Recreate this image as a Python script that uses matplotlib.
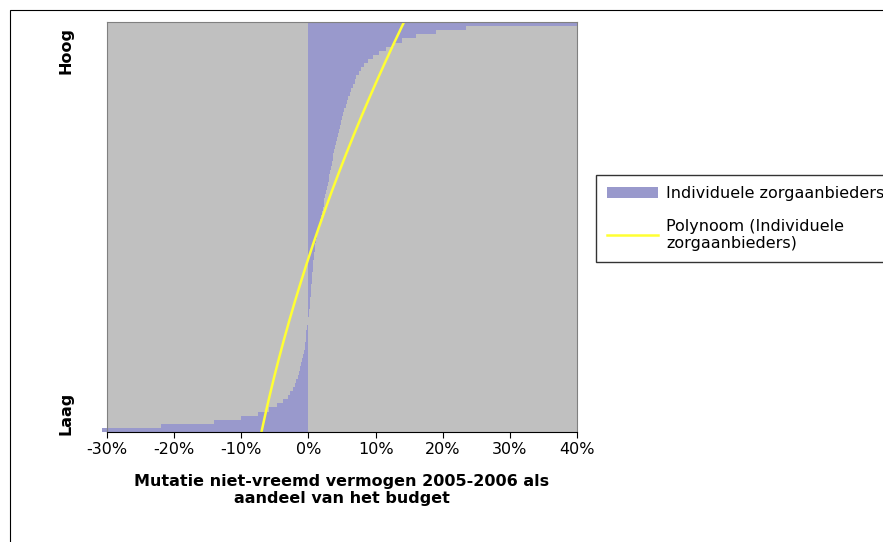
import numpy as np
import matplotlib
matplotlib.use("Agg")
import matplotlib.pyplot as plt
from matplotlib.patches import Patch, Rectangle
from matplotlib.lines import Line2D

# sorted mutation per provider (% of budget), bottom (Laag) to top (Hoog)
values = [
    -30.7, -22, -14, -10, -7.5, -5.8, -4.7, -3.8, -3.1, -2.7,
    -2.3, -2.0, -1.8, -1.6, -1.4, -1.2, -1.05, -0.9, -0.75, -0.65,
    -0.55, -0.48, -0.42, -0.36, -0.3, -0.25, 0.0, 0.0, 0.1, 0.15,
    0.2, 0.25, 0.3, 0.35, 0.4, 0.45, 0.5, 0.55, 0.6, 0.65,
    0.7, 0.75, 0.8, 0.88, 0.95, 1.05, 1.15, 1.25, 1.35, 1.45,
    1.6, 1.75, 1.9, 2.0, 2.1, 2.25, 2.35, 2.5, 2.6, 2.75,
    2.85, 3.0, 3.1, 3.2, 3.35, 3.45, 3.6, 3.7, 3.8, 3.95,
    4.1, 4.25, 4.4, 4.55, 4.7, 4.85, 5.0, 5.15, 5.35, 5.55,
    5.7, 5.9, 6.15, 6.4, 6.65, 6.9, 7.15, 7.5, 7.85, 8.3,
    8.9, 9.6, 10.5, 11.5, 12.8, 14.0, 16.0, 19.0, 23.5, 40.0,
]
# trend line (Polynoom) at a few provider positions
trend_pos = [-0.5, 49, 67, 99.5]
trend_vals = [-7.0, 1.5, 5.5, 14.25]
xticks = [-30, -20, -10, 0, 10, 20, 30, 40]

PURPLE = "#9999cc"
GREY = "#c0c0c0"
YELLOW = "#ffff33"

fig = plt.figure(figsize=(8.83, 5.42), dpi=100)
ax = fig.add_axes([107 / 883, 1 - 432 / 542, 470 / 883, 410 / 542])
ax.set_facecolor(GREY)

idx = np.arange(len(values))
ax.barh(idx, values, height=1.0, color=PURPLE, linewidth=0, clip_on=False)

coef = np.polyfit(trend_pos, trend_vals, 2)
yy = np.linspace(-0.5, len(values) - 0.5, 200)
ax.plot(np.polyval(coef, yy), yy, color=YELLOW, linewidth=1.8)

ax.set_xlim(-30, 40)
ax.set_ylim(-0.5, len(values) - 0.5)
ax.set_xticks(xticks)
ax.set_xticklabels([f"{t}%" for t in xticks], fontsize=11.5)
ax.set_yticks([])
for s in ["top", "right", "left"]:
    ax.spines[s].set_color("#808080")
ax.tick_params(axis="x", length=4)
ax.set_xlabel("Mutatie niet-vreemd vermogen 2005-2006 als\naandeel van het budget",
              fontsize=11.5, weight="bold", labelpad=12)

fig.text(66 / 883, 1 - 50 / 542, "Hoog", rotation=90, ha="center", va="center",
         fontsize=11.5, weight="bold")
fig.text(66 / 883, 1 - 413 / 542, "Laag", rotation=90, ha="center", va="center",
         fontsize=11.5, weight="bold")

handles = [Patch(facecolor=PURPLE, edgecolor="none"),
           Line2D([0], [0], color=YELLOW, linewidth=1.8)]
labels = ["Individuele zorgaanbieders", "Polynoom (Individuele\nzorgaanbieders)"]
fig.legend(handles, labels, loc="upper left", bbox_to_anchor=(588 / 883, 1 - 167 / 542),
           frameon=True, fancybox=False, edgecolor="black", fontsize=11.5,
           handlelength=3.2, handletextpad=0.5, labelspacing=1.1, borderpad=0.7)

fig.patches.append(Rectangle((10 / 883, -0.01), 1, 1 - 10 / 542 + 0.01,
                             transform=fig.transFigure, fill=False,
                             edgecolor="black", linewidth=0.8))

fig.savefig("out.png", dpi=100)
